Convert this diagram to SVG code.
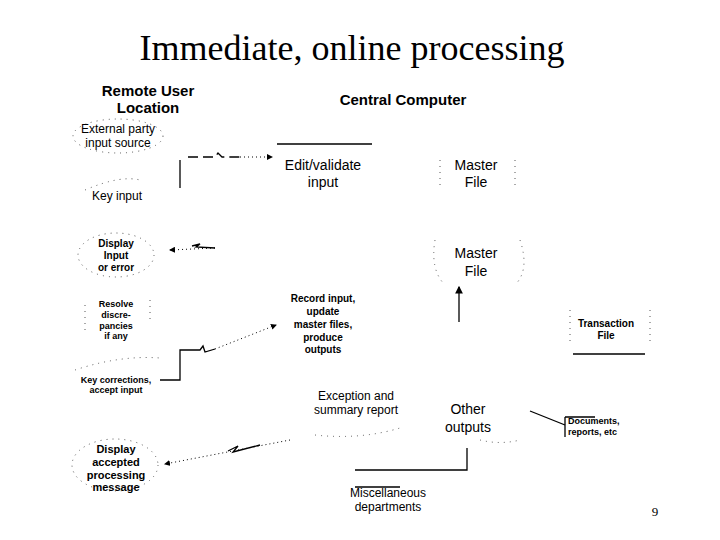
<svg xmlns="http://www.w3.org/2000/svg" width="720" height="540" viewBox="0 0 720 540">
<style>
.t{font-family:"Liberation Sans",Arial,sans-serif;fill:#000}
.b{font-weight:bold}
.s{stroke:#000;stroke-width:1.3;fill:none}
.d{stroke:#555;stroke-width:1;fill:none;stroke-dasharray:1 5}
.c{stroke:#000;stroke-width:1;fill:none;stroke-dasharray:1 3}
</style>
<defs><marker id="a" markerWidth="6" markerHeight="6" refX="5" refY="3" orient="auto"><path d="M0,0L6,3L0,6z" fill="#000"/></marker></defs>
<rect width="720" height="540" fill="#fff"/>
<text class="t" x="352" y="60" text-anchor="middle" style="font-family:'Liberation Serif',serif" font-size="36">Immediate, online processing</text>
<text class="t b" x="148" y="96" text-anchor="middle" font-size="15">Remote User</text>
<text class="t b" x="148" y="113" text-anchor="middle" font-size="15">Location</text>
<text class="t b" x="403" y="105" text-anchor="middle" font-size="15">Central Computer</text>
<g id="ext"><ellipse class="d" cx="118" cy="136" rx="45" ry="17"/><text class="t" x="118" y="133" text-anchor="middle" font-size="12">External party</text><text class="t" x="118" y="147" text-anchor="middle" font-size="12">input source</text></g>
<g id="key"><path class="d" d="M85,190 Q120,175 140,180"/><text class="t" x="117" y="200" text-anchor="middle" font-size="12">Key input</text></g>
<g id="edit"><text class="t" x="323" y="170" text-anchor="middle" font-size="14">Edit/validate</text><text class="t" x="323" y="187" text-anchor="middle" font-size="14">input</text></g>
<g id="mf1"><path class="d" d="M440,160 L440,190 M515,160 L515,190"/><text class="t" x="476" y="170" text-anchor="middle" font-size="14">Master</text><text class="t" x="476" y="187" text-anchor="middle" font-size="14">File</text></g>
<g id="disp"><ellipse class="d" cx="116" cy="255" rx="38" ry="22"/><text class="t b" x="116" y="247" text-anchor="middle" font-size="10">Display</text><text class="t b" x="116" y="259" text-anchor="middle" font-size="10">Input</text><text class="t b" x="116" y="271" text-anchor="middle" font-size="10">or error</text></g>
<g id="mf2"><path class="d" d="M435,240 Q430,270 445,285 M520,240 Q530,270 515,285"/><text class="t" x="476" y="258" text-anchor="middle" font-size="14">Master</text><text class="t" x="476" y="276" text-anchor="middle" font-size="14">File</text></g>
<g id="res"><path class="d" d="M85,305 L85,335 M150,300 L150,320"/><text class="t b" x="116" y="307" text-anchor="middle" font-size="9">Resolve</text><text class="t b" x="116" y="318" text-anchor="middle" font-size="9">discre-</text><text class="t b" x="116" y="329" text-anchor="middle" font-size="9">pancies</text><text class="t b" x="116" y="339" text-anchor="middle" font-size="9">if any</text></g>
<g id="rec"><text class="t b" x="323" y="302" text-anchor="middle" font-size="10">Record input,</text><text class="t b" x="323" y="315" text-anchor="middle" font-size="10">update</text><text class="t b" x="323" y="328" text-anchor="middle" font-size="10">master files,</text><text class="t b" x="323" y="341" text-anchor="middle" font-size="10">produce</text><text class="t b" x="323" y="353" text-anchor="middle" font-size="10">outputs</text></g>
<g id="trans"><path class="d" d="M570,310 L570,345 M650,310 L650,345"/><text class="t b" x="606" y="327" text-anchor="middle" font-size="10">Transaction</text><text class="t b" x="606" y="339" text-anchor="middle" font-size="10">File</text><path class="s" d="M573,354H645"/></g>
<g id="kc"><path class="d" d="M75,370 Q120,355 160,358"/><text class="t b" x="116" y="383" text-anchor="middle" font-size="9">Key corrections,</text><text class="t b" x="116" y="393" text-anchor="middle" font-size="9">accept input</text></g>
<g id="exc"><text class="t" x="356" y="400" text-anchor="middle" font-size="12">Exception and</text><text class="t" x="356" y="414" text-anchor="middle" font-size="12">summary report</text><path class="d" d="M315,435 Q360,440 400,428"/></g>
<g id="oth"><text class="t" x="468" y="414" text-anchor="middle" font-size="14">Other</text><text class="t" x="468" y="432" text-anchor="middle" font-size="14">outputs</text><path class="d" d="M480,440 Q500,445 520,440"/></g>
<g id="doc"><path class="s" d="M565,417V437M565,417H595"/><text class="t b" x="568" y="424" font-size="9">Documents,</text><text class="t b" x="568" y="435" font-size="9">reports, etc</text></g>
<g id="dam"><ellipse class="d" cx="115" cy="465" rx="43" ry="26"/><text class="t b" x="116" y="453" text-anchor="middle" font-size="11">Display</text><text class="t b" x="116" y="466" text-anchor="middle" font-size="11">accepted</text><text class="t b" x="116" y="479" text-anchor="middle" font-size="11">processing</text><text class="t b" x="116" y="491" text-anchor="middle" font-size="11">message</text></g>
<g id="misc"><path class="s" d="M355,487H400"/><text class="t" x="388" y="497" text-anchor="middle" font-size="12">Miscellaneous</text><text class="t" x="388" y="511" text-anchor="middle" font-size="12">departments</text></g>
<text class="t" x="655" y="516" text-anchor="middle" font-size="13" style="font-family:'Liberation Serif',serif">9</text>
<g id="connectors">
<path class="s" d="M277,144H372"/>
<path class="s" d="M180,160V188"/>
<path class="s" d="M188,157H215L218,153L222,157H240" stroke-dasharray="10 5"/>
<path class="c" d="M240,157H272" marker-end="url(#a)"/>
<path class="c" d="M215,248L170,250" marker-end="url(#a)"/>
<path class="s" d="M215,248L196,247L200,244L192,246"/>
<path class="s" d="M160,380H180V350H200L203,346L205,352L215,349"/>
<path class="c" d="M215,349L276,325" marker-end="url(#a)"/>
<path class="c" d="M290,440L165,464" marker-end="url(#a)"/>
<path class="s" d="M260,445L233,452L238,446L228,451" stroke-width="1.8"/>
<path class="s" d="M355,470H467V448"/>
<path class="s" d="M459,322V287" marker-end="url(#a)"/>
<path class="s" d="M530,411L565,425"/>
</g>
</svg>
